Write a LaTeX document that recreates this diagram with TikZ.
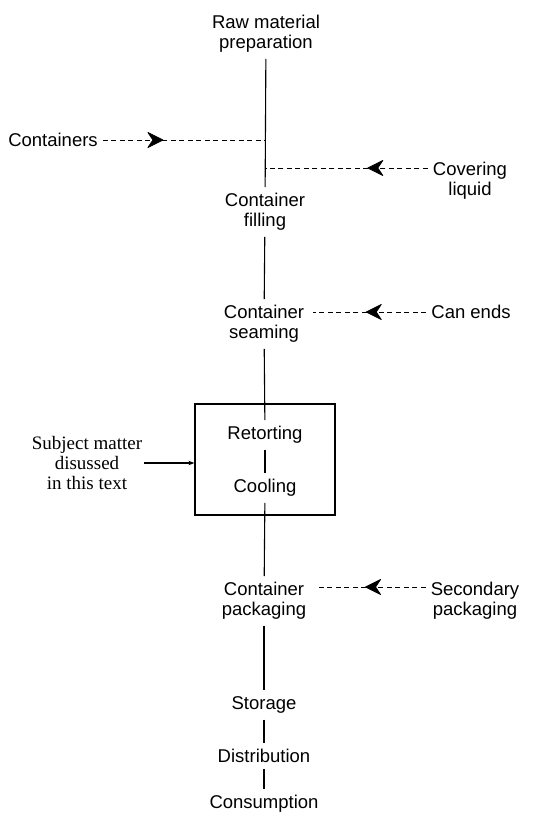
\documentclass[tikz,border=0pt]{standalone}
\usepackage{fontspec}
\setmainfont{Liberation Sans}
\newfontfamily\serifface{Liberation Serif}
\usetikzlibrary{arrows.meta,decorations.markings}
\begin{document}
\begin{tikzpicture}[x=1pt,y=-1pt,
  lbl/.style={align=center,inner xsep=5pt,inner ysep=6pt,font=\fontsize{18.5}{20}\selectfont},
  note/.style={align=center,inner xsep=2pt,inner ysep=4pt,font=\serifface\fontsize{19}{20}\selectfont},
  flow/.style={line width=1.1pt},
  feed/.style={line width=1pt,dash pattern=on 5pt off 3.5pt,postaction={decorate},
    decoration={markings,mark=at position 60pt with {\filldraw[solid,line width=0.8pt,line join=round] (0,0) -- (-15,7.5) -- (-10,0) -- (-15,-7.5) -- cycle;}}},
  boxed/.style={draw,line width=1.2pt,minimum width=140pt,minimum height=111pt,inner sep=0pt}
]
\useasboundingbox (0,0) rectangle (556,814);
\node[lbl] (raw) at (266,34) {Raw material\\preparation};
\node[lbl] (fill) at (265,212) {Container\\filling};
\node[lbl] (seam) at (264,324) {Container\\seaming};
\node[boxed] (box) at (265,459.5) {};
\node[lbl] (ret) at (265,435) {Retorting};
\node[lbl] (cool) at (265,488) {Cooling};
\node[lbl] (pack) at (264,601) {Container\\packaging};
\node[lbl] (stor) at (264,705) {Storage};
\node[lbl] (dist) at (264,756) {Distribution};
\node[lbl] (cons) at (264,804) {Consumption};
\node[lbl] (cont) at (53,140) {Containers};
\node[lbl] (cov) at (470,181) {Covering\\liquid};
\node[lbl] (can) at (471,312) {Can ends};
\node[lbl] (sec) at (475,601) {Secondary\\packaging};
\node[note] (subj) at (87,463) {Subject matter\\disussed\\in this text};
\coordinate (j1) at (265,140);
\coordinate (j2) at (266,168);
\draw[flow] (raw) -- (fill);
\draw[flow] (fill) -- (seam);
\draw[flow] (seam) -- (ret);
\draw[flow] (ret) -- (cool);
\draw[flow] (cool) -- (pack);
\draw[flow] (pack) -- (stor);
\draw[flow] (stor) -- (dist);
\draw[flow] (dist) -- (cons);
\draw[feed] (cont) -- (j1);
\draw[feed] ([yshift=13pt]cov.west) -- (j2);
\draw[feed] (can.west) -- ([yshift=12pt,xshift=4pt]seam.east);
\draw[feed] ([yshift=14pt]sec.west) -- ([yshift=14pt,xshift=4pt]pack.east);
\draw[flow,-{Stealth[length=6pt,width=4.5pt]}] (subj.east) -- (subj.east -| box.west);
\end{tikzpicture}
\end{document}
